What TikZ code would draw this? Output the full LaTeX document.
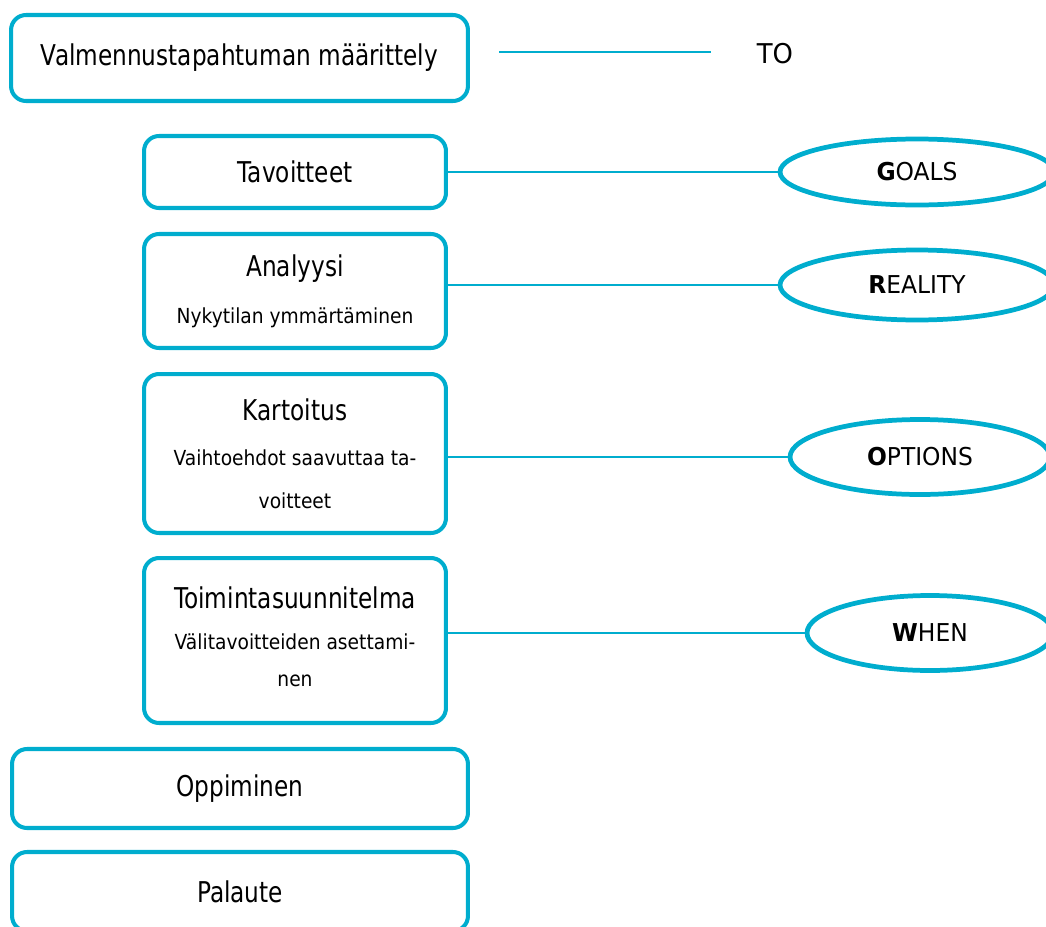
\documentclass[tikz,border=0pt]{standalone}
\usepackage{fontspec}
\setmainfont{DejaVu Sans}[FakeStretch=0.81]
\newfontfamily\subfamily{DejaVu Sans}[FakeStretch=0.90]
\newfontfamily\capsfamily{DejaVu Sans}[FakeStretch=0.95]
\usetikzlibrary{shapes.geometric}

\definecolor{coach}{RGB}{0,173,206}
\newcommand{\subline}{\subfamily\fontsize{11.8}{21.5}\selectfont}

\tikzset{
  phase/.style={draw=coach, line width=2.3pt, rounded corners=0.3cm,
    align=center, inner sep=0pt, font=\fontsize{16.3}{20}\selectfont},
  growoval/.style={draw=coach, line width=2.7pt, ellipse, inner sep=0pt,
    font=\capsfamily\fontsize{14}{17}\selectfont},
  link/.style={draw=coach, line width=1.1pt}
}

\begin{document}
\begin{tikzpicture}[x=0.02cm, y=-0.02cm]
  \useasboundingbox (0,0) rectangle (1046,927);
  \clip (0,0) rectangle (1046,927);

  % vaiheet
  \node[phase, minimum width=9.14cm, minimum height=1.72cm] (def) at (239.5,58)
    {\raisebox{2.5pt}{Valmennustapahtuman määrittely}};
  \node[phase, minimum width=6.04cm, minimum height=1.44cm] (tav) at (295,172) {Tavoitteet};
  \node[phase, minimum width=6.04cm, minimum height=2.28cm] (ana) at (295,291)
    {Analyysi\\[7pt]\subline Nykytilan ymmärtäminen};
  \node[phase, minimum width=6.04cm, minimum height=3.18cm] (kar) at (295,453.5)
    {Kartoitus\\[6pt]\subline Vaihtoehdot saavuttaa ta-\\[4pt]\subline voitteet};
  \node[phase, minimum width=6.04cm, minimum height=3.30cm] (toi) at (295,640.5)
    {Toimintasuunnitelma\\[3pt]\subline Välitavoitteiden asettami-\\[1pt]\subline nen\rule[-4.5pt]{0pt}{4.5pt}};
  \node[phase, minimum width=9.12cm, minimum height=1.58cm] (opp) at (240,788.5) {Oppiminen};
  \node[phase, minimum width=9.12cm, minimum height=1.58cm] (pal) at (240,891.5) {Palaute};

  % GROW
  \node[font=\capsfamily\fontsize{15.5}{20}\selectfont] (to) at (775,54) {TO};
  \node[growoval, minimum width=5.48cm, minimum height=1.32cm] (goals) at (917,172) {\textbf{G}OALS};
  \node[growoval, minimum width=5.48cm, minimum height=1.40cm] (reality) at (917,285) {\textbf{R}EALITY};
  \node[growoval, minimum width=5.20cm, minimum height=1.50cm] (options) at (920,457) {\textbf{O}PTIONS};
  \node[growoval, minimum width=4.92cm, minimum height=1.50cm] (when) at (930,633) {\textbf{W}HEN};

  \coordinate (tostart) at (499,52);
  \coordinate (toend) at (711,52);
  \draw[link] (tostart) -- (toend);

  \draw[link] (goals.west) -- (goals.west -| tav.east);
  \draw[link] (reality.west) -- (reality.west -| ana.east);
  \draw[link] (options.west) -- (options.west -| kar.east);
  \draw[link] (when.west) -- (when.west -| toi.east);

\end{tikzpicture}
\end{document}
